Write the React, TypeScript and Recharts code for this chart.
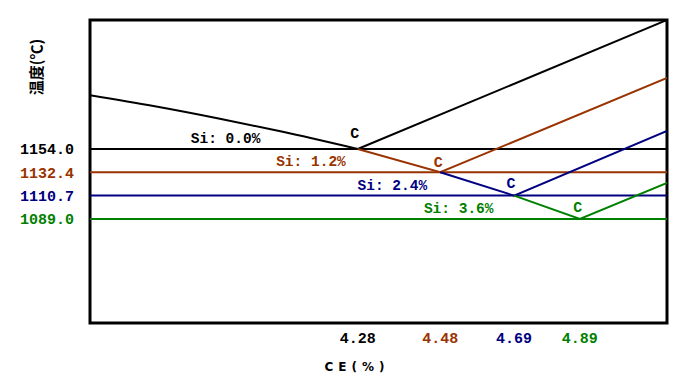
import React from 'react';
import { LineChart, Line, XAxis, YAxis, ReferenceLine, ReferenceArea, ReferenceDot } from 'recharts';

// Schematic CE axis: positions of the eutectic points on a 0–100 axis, with their CE labels
const cePositions = [46.4, 60.7, 73.5, 84.9];
const ceLabels = ['4.28', '4.48', '4.69', '4.89'];
// Eutectic temperatures (°C) and their tick labels
const eutecticTemps = [1154.0, 1132.4, 1110.7, 1089.0];
const tempLabels = ['1154.0', '1132.4', '1110.7', '1089.0'];
// Silicon contents of each series
const siLabels = ['Si: 0.0%', 'Si: 1.2%', 'Si: 2.4%', 'Si: 3.6%'];
// Hypoeutectic liquidus for Si 0.0% (x position, temperature)
const liquidusX = [0, 11, 22.5, 33];
const liquidusT = [1204.0, 1193.9, 1182.1, 1170.4];
// Hypereutectic liquidus end temperatures at the right edge (x = 100)
const rightEndTemps = [1273.8, 1219.9, 1170.7, 1122.4];

const X_MAX = 100;
const Y_MIN = 992.4;
const Y_MAX = 1273.8;

const colors = ['#000000', '#993300', '#000080', '#008000'];
const siLabelX = [23.5, 38.3, 52.4, 63.9];
const cOffsets = [[-3, -16], [-2, -11], [-3, -13], [-2, -12]];
const MONO = '"Liberation Mono", "DejaVu Sans Mono", monospace';

// curved hypoeutectic liquidus of Si 0.0%
const curveData = [
  ...liquidusX.map((x, k) => ({ x, t: liquidusT[k] })),
  { x: cePositions[0], t: eutecticTemps[0] },
];

// straight segments: previous eutectic -> this eutectic (i>0), then eutectic -> right edge
const seriesData = eutecticTemps.map((t, i) => {
  const pts: { x: number; t: number }[] = [];
  if (i > 0) pts.push({ x: cePositions[i - 1], t: eutecticTemps[i - 1] });
  pts.push({ x: cePositions[i], t });
  pts.push({ x: X_MAX, t: rightEndTemps[i] });
  return pts;
});

const YTick = (props: any) => {
  const idx = eutecticTemps.indexOf(props.payload.value);
  return (
    <text x={props.x} y={props.y} dy="0.35em" textAnchor="end" fill={colors[idx]}
      fontFamily={MONO} fontSize={15} fontWeight="bold">
      {tempLabels[idx]}
    </text>
  );
};

const XTick = (props: any) => {
  const idx = cePositions.indexOf(props.payload.value);
  return (
    <text x={props.x} y={props.y} dy="0.71em" textAnchor="middle" fill={colors[idx]}
      fontFamily={MONO} fontSize={15} fontWeight="bold">
      {ceLabels[idx]}
    </text>
  );
};

export default function App() {
  return (
    <div style={{ position: 'absolute', left: 0, top: 0, background: '#fff' }}>
      <LineChart width={679} height={377} margin={{ top: 20, right: 12, bottom: 0, left: 0 }}>
        <XAxis type="number" dataKey="x" domain={[0, X_MAX]} ticks={cePositions} tick={<XTick />}
          axisLine={false} tickLine={false} tickSize={0} tickMargin={9} height={54}
          allowDataOverflow interval={0}
          label={{
            content: () => (
              <text x={357} y={371} textAnchor="middle" fontFamily='"DejaVu Sans", Verdana, sans-serif'
                fontSize={12} fontWeight="bold" letterSpacing={5} fill="#000">CE(%)</text>
            ),
          }} />
        <YAxis type="number" dataKey="t" domain={[Y_MIN, Y_MAX]} ticks={eutecticTemps} tick={<YTick />}
          axisLine={false} tickLine={false} tickSize={0} tickMargin={16} width={90}
          allowDataOverflow interval={0}
          label={{
            content: () => (
              <text x={35} y={67} transform="rotate(-90 35 67)" textAnchor="middle" dominantBaseline="central"
                fontFamily='"Noto Sans CJK SC", sans-serif' fontSize={15} fontWeight="bold" fill="#000">温度(℃)</text>
            ),
          }} />
        {eutecticTemps.map((t, i) => (
          <ReferenceLine key={'h' + i} y={t} stroke={colors[i]} strokeWidth={2} ifOverflow="visible" />
        ))}
        <Line data={curveData} dataKey="t" type="monotone" stroke={colors[0]} strokeWidth={2}
          dot={false} activeDot={false} isAnimationActive={false} />
        {seriesData.map((d, i) => (
          <Line key={'l' + i} data={d} dataKey="t" type="linear" stroke={colors[i]} strokeWidth={2}
            dot={false} activeDot={false} isAnimationActive={false} />
        ))}
        {eutecticTemps.map((t, i) => (
          <ReferenceDot key={'s' + i} x={siLabelX[i]} y={t} r={0} ifOverflow="visible"
            shape={(p: any) => (
              <text x={p.cx} y={p.cy - 6} textAnchor="middle" fill={colors[i]} fontFamily={MONO}
                fontSize={14.5} fontWeight="bold">{siLabels[i]}</text>
            )} />
        ))}
        {eutecticTemps.map((t, i) => (
          <ReferenceDot key={'c' + i} x={cePositions[i]} y={t} r={0} ifOverflow="visible"
            shape={(p: any) => (
              <text x={p.cx + cOffsets[i][0]} y={p.cy + cOffsets[i][1]} dy="0.35em" textAnchor="middle"
                fill={colors[i]} fontFamily={MONO} fontSize={15} fontWeight="bold">C</text>
            )} />
        ))}
        <ReferenceArea x1={0} x2={X_MAX} y1={Y_MIN} y2={Y_MAX} fill="none" stroke="#000" strokeWidth={3}
          ifOverflow="visible" />
      </LineChart>
    </div>
  );
}
